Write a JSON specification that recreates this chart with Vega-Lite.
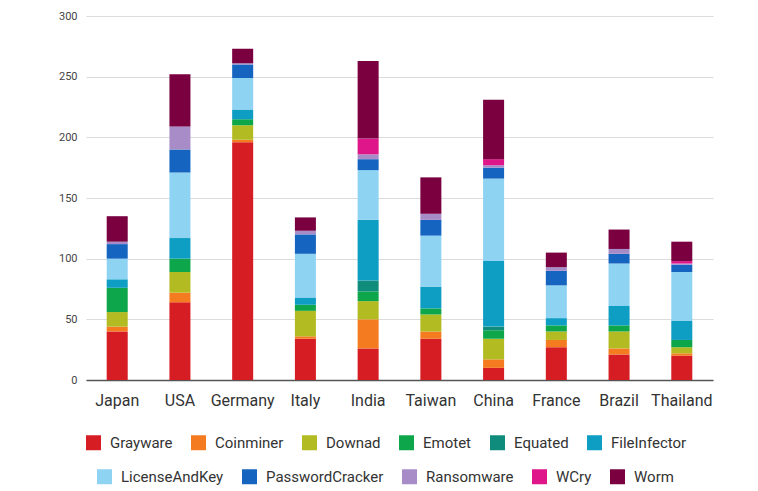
{
  "$schema": "https://vega.github.io/schema/vega-lite/v6.json",
  "autosize": "none",
  "width": 627,
  "height": 364,
  "padding": {"left": 86, "top": 16, "right": 45, "bottom": 111},
  "background": "white",
  "config": {"view": {"stroke": null}, "font": "Roboto"},
  "data": {"values": [
    {"c":"Japan","t":"Grayware","v":40},{"c":"Japan","t":"Coinminer","v":4},{"c":"Japan","t":"Downad","v":12},{"c":"Japan","t":"Emotet","v":20},{"c":"Japan","t":"FileInfector","v":7},{"c":"Japan","t":"LicenseAndKey","v":17},{"c":"Japan","t":"PasswordCracker","v":12},{"c":"Japan","t":"Ransomware","v":2},{"c":"Japan","t":"Worm","v":21},
    {"c":"USA","t":"Grayware","v":64},{"c":"USA","t":"Coinminer","v":8},{"c":"USA","t":"Downad","v":17},{"c":"USA","t":"Emotet","v":11},{"c":"USA","t":"FileInfector","v":17},{"c":"USA","t":"LicenseAndKey","v":54},{"c":"USA","t":"PasswordCracker","v":19},{"c":"USA","t":"Ransomware","v":19},{"c":"USA","t":"Worm","v":43},
    {"c":"Germany","t":"Grayware","v":196},{"c":"Germany","t":"Coinminer","v":2},{"c":"Germany","t":"Downad","v":12},{"c":"Germany","t":"Emotet","v":5},{"c":"Germany","t":"FileInfector","v":8},{"c":"Germany","t":"LicenseAndKey","v":26},{"c":"Germany","t":"PasswordCracker","v":11},{"c":"Germany","t":"Ransomware","v":1},{"c":"Germany","t":"Worm","v":12},
    {"c":"Italy","t":"Grayware","v":34},{"c":"Italy","t":"Coinminer","v":2},{"c":"Italy","t":"Downad","v":21},{"c":"Italy","t":"Emotet","v":5},{"c":"Italy","t":"FileInfector","v":6},{"c":"Italy","t":"LicenseAndKey","v":36},{"c":"Italy","t":"PasswordCracker","v":16},{"c":"Italy","t":"Ransomware","v":3},{"c":"Italy","t":"Worm","v":11},
    {"c":"India","t":"Grayware","v":26},{"c":"India","t":"Coinminer","v":24},{"c":"India","t":"Downad","v":15},{"c":"India","t":"Emotet","v":8},{"c":"India","t":"Equated","v":9},{"c":"India","t":"FileInfector","v":50},{"c":"India","t":"LicenseAndKey","v":41},{"c":"India","t":"PasswordCracker","v":9},{"c":"India","t":"Ransomware","v":4},{"c":"India","t":"WCry","v":13},{"c":"India","t":"Worm","v":64},
    {"c":"Taiwan","t":"Grayware","v":34},{"c":"Taiwan","t":"Coinminer","v":6},{"c":"Taiwan","t":"Downad","v":14},{"c":"Taiwan","t":"Emotet","v":5},{"c":"Taiwan","t":"FileInfector","v":18},{"c":"Taiwan","t":"LicenseAndKey","v":42},{"c":"Taiwan","t":"PasswordCracker","v":13},{"c":"Taiwan","t":"Ransomware","v":5},{"c":"Taiwan","t":"Worm","v":30},
    {"c":"China","t":"Grayware","v":10},{"c":"China","t":"Coinminer","v":7},{"c":"China","t":"Downad","v":17},{"c":"China","t":"Emotet","v":7},{"c":"China","t":"Equated","v":3},{"c":"China","t":"FileInfector","v":54},{"c":"China","t":"LicenseAndKey","v":68},{"c":"China","t":"PasswordCracker","v":9},{"c":"China","t":"Ransomware","v":2},{"c":"China","t":"WCry","v":5},{"c":"China","t":"Worm","v":49},
    {"c":"France","t":"Grayware","v":27},{"c":"France","t":"Coinminer","v":6},{"c":"France","t":"Downad","v":7},{"c":"France","t":"Emotet","v":5},{"c":"France","t":"FileInfector","v":6},{"c":"France","t":"LicenseAndKey","v":27},{"c":"France","t":"PasswordCracker","v":12},{"c":"France","t":"Ransomware","v":3},{"c":"France","t":"Worm","v":12},
    {"c":"Brazil","t":"Grayware","v":21},{"c":"Brazil","t":"Coinminer","v":5},{"c":"Brazil","t":"Downad","v":14},{"c":"Brazil","t":"Emotet","v":5},{"c":"Brazil","t":"FileInfector","v":16},{"c":"Brazil","t":"LicenseAndKey","v":35},{"c":"Brazil","t":"PasswordCracker","v":8},{"c":"Brazil","t":"Ransomware","v":4},{"c":"Brazil","t":"Worm","v":16},
    {"c":"Thailand","t":"Grayware","v":20},{"c":"Thailand","t":"Coinminer","v":2},{"c":"Thailand","t":"Downad","v":5},{"c":"Thailand","t":"Emotet","v":6},{"c":"Thailand","t":"FileInfector","v":16},{"c":"Thailand","t":"LicenseAndKey","v":40},{"c":"Thailand","t":"PasswordCracker","v":6},{"c":"Thailand","t":"Ransomware","v":1},{"c":"Thailand","t":"WCry","v":2},{"c":"Thailand","t":"Worm","v":16}
  ]},
  "layer": [
    {
      "transform": [
        {"calculate": "indexof(['Grayware','Coinminer','Downad','Emotet','Equated','FileInfector','LicenseAndKey','PasswordCracker','Ransomware','WCry','Worm'], datum.t)", "as": "k"}
      ],
      "mark": {"type": "bar"},
      "encoding": {
        "x": {
          "field": "c", "type": "nominal", "title": null,
          "sort": ["Japan","USA","Germany","Italy","India","Taiwan","China","France","Brazil","Thailand"],
          "scale": {"paddingInner": 0.665, "paddingOuter": 0.33},
          "axis": {"labelAngle": 0, "ticks": false, "labelFontSize": 16, "labelColor": "#333", "labelPadding": 12, "domainColor": "#555", "domainWidth": 1.5}
        },
        "y": {
          "field": "v", "type": "quantitative", "aggregate": "sum", "title": null,
          "scale": {"domain": [0, 300]},
          "axis": {"values": [0,50,100,150,200,250,300], "domain": false, "ticks": false, "labelFontSize": 11, "labelColor": "#444", "labelPadding": 9, "gridColor": "#dcdcdc"}
        },
        "order": {"field": "k", "type": "quantitative", "sort": "ascending"},
        "color": {
          "field": "t", "type": "nominal", "title": null,
          "scale": {
            "domain": ["Grayware","Coinminer","Downad","Emotet","Equated","FileInfector","LicenseAndKey","PasswordCracker","Ransomware","WCry","Worm"],
            "range": ["#d71d24","#f47b20","#b3bb22","#0ea64b","#0f8c7c","#0e9dc3","#8fd3f3","#1565c0","#a78cc8","#df1689","#7a0040"]
          },
          "legend": {
            "values": ["Grayware","Coinminer","Downad","Emotet","Equated","FileInfector"],
            "orient": "none", "legendX": 0, "legendY": 419, "direction": "horizontal",
            "columnPadding": 18, "padding": 0,
            "symbolType": "square", "symbolSize": 225, "symbolStrokeWidth": 0, "symbolOpacity": 1,
            "labelFontSize": 15, "labelColor": "#333", "labelOffset": 9, "labelLimit": 300
          }
        }
      }
    },
    {
      "transform": [{"filter": "false"}],
      "mark": {"type": "square", "filled": true},
      "encoding": {
        "fill": {
          "field": "t", "type": "nominal", "title": null,
          "scale": {
            "domain": ["LicenseAndKey","PasswordCracker","Ransomware","WCry","Worm"],
            "range": ["#8fd3f3","#1565c0","#a78cc8","#df1689","#7a0040"]
          },
          "legend": {
            "orient": "none", "legendX": 11, "legendY": 453, "direction": "horizontal",
            "columnPadding": 18, "padding": 0,
            "symbolType": "square", "symbolSize": 225, "symbolStrokeWidth": 0, "symbolOpacity": 1,
            "labelFontSize": 15, "labelColor": "#333", "labelOffset": 9, "labelLimit": 300
          }
        }
      }
    }
  ]
}
